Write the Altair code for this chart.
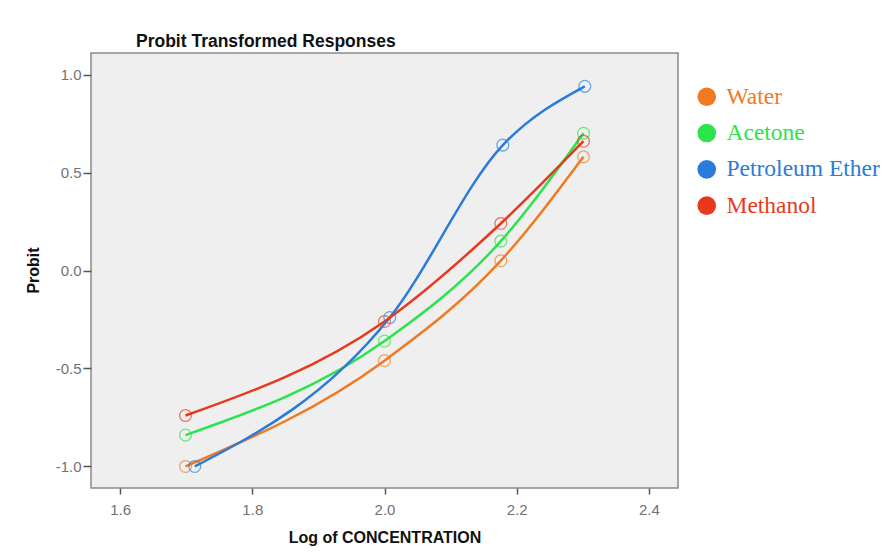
import altair as alt
import pandas as pd

# ---- data ----
series = ["Water", "Acetone", "Petroleum Ether", "Methanol"]
colors = ["#F07A22", "#2BE44B", "#2A7BDB", "#E8391D"]

log_conc = [1.699, 2.0, 2.176, 2.301]
log_conc_pe = [1.713, 2.008, 2.179, 2.303]

water = [-1.00, -0.46, 0.05, 0.58]
acetone = [-0.84, -0.36, 0.15, 0.70]
petroleum_ether = [-1.00, -0.24, 0.64, 0.94]
methanol = [-0.74, -0.26, 0.24, 0.66]

x_ticks = [1.6, 1.8, 2.0, 2.2, 2.4]
y_ticks = [-1.0, -0.5, 0.0, 0.5, 1.0]

rows = []
for name, xs, ys in [
    ("Water", log_conc, water),
    ("Acetone", log_conc, acetone),
    ("Petroleum Ether", log_conc_pe, petroleum_ether),
    ("Methanol", log_conc, methanol),
]:
    for i, (x, y) in enumerate(zip(xs, ys)):
        rows.append({"series": name, "x": x, "y": y, "i": i})
df = pd.DataFrame(rows)

color_scale = alt.Scale(domain=series, range=colors)

x_enc = alt.X(
    "x:Q",
    scale=alt.Scale(domain=[1.556, 2.444], nice=False, zero=False),
    axis=alt.Axis(
        values=x_ticks, format=".1f", title="Log of CONCENTRATION",
        tickSize=6, labelPadding=8, titleY=49, titleBaseline="middle",
    ),
)
y_enc = alt.Y(
    "y:Q",
    scale=alt.Scale(domain=[-1.11, 1.11], nice=False, zero=False),
    axis=alt.Axis(
        values=y_ticks, format=".1f", title="Probit",
        labelExpr="replace(datum.label, '\u2212', '-')",
        tickSize=8, labelPadding=2,
        titleX=-58, titleY=217, titleAngle=270, titleAlign="center",
        titleBaseline="middle",
    ),
)

lines = alt.Chart(df).mark_line(interpolate="monotone", strokeWidth=2.5).encode(
    x=x_enc,
    y=y_enc,
    order="i:Q",
    color=alt.Color(
        "series:N",
        scale=color_scale,
        sort=series,
        legend=alt.Legend(
            title=None,
            orient="none",
            legendX=604,
            legendY=32,
            symbolType="circle",
            symbolSize=346,
            symbolStrokeWidth=0,
            symbolFillColor=alt.ExprRef("scale('color', datum.value)"),
            labelColor=alt.ExprRef("scale('color', datum.value)"),
            labelFont="Liberation Serif",
            labelFontSize=23.5,
            labelOffset=8,
            labelLimit=0,
            rowPadding=11.3,
            padding=0,
        ),
    ),
)

points = alt.Chart(df).mark_point(
    shape="circle", filled=False, size=140, strokeWidth=1.3, opacity=0.65
).encode(
    x=x_enc,
    y=y_enc,
    color=alt.Color("series:N", scale=color_scale, legend=None),
)

chart = (
    alt.layer(lines, points)
    .properties(
        width=587,
        height=435,
        background="white",
        title=alt.Title(
            "Probit Transformed Responses",
            anchor="start",
            frame="group",
            dx=45,
            offset=3,
            font="Liberation Sans",
            fontSize=17.5,
            fontWeight="bold",
            color="#111111",
        ),
        autosize=alt.AutoSizeParams(type="none"),
        padding={"left": 83, "top": 45, "right": 208, "bottom": 66},
    )
    .configure_view(fill="#EFEFEF", stroke="#8A8A8A", strokeWidth=1.5)
    .configure_axis(
        domain=False,
        grid=False,
        tickColor="#555555",
        tickWidth=1.5,
        labelColor="#727272",
        labelFont="Liberation Sans",
        labelFontSize=15,
        titleFont="Liberation Sans",
        titleFontSize=16,
        titleFontWeight="bold",
        titleColor="#111111",
    )
)

chart.save("out.html", embed_options={"renderer": "svg", "actions": False})
